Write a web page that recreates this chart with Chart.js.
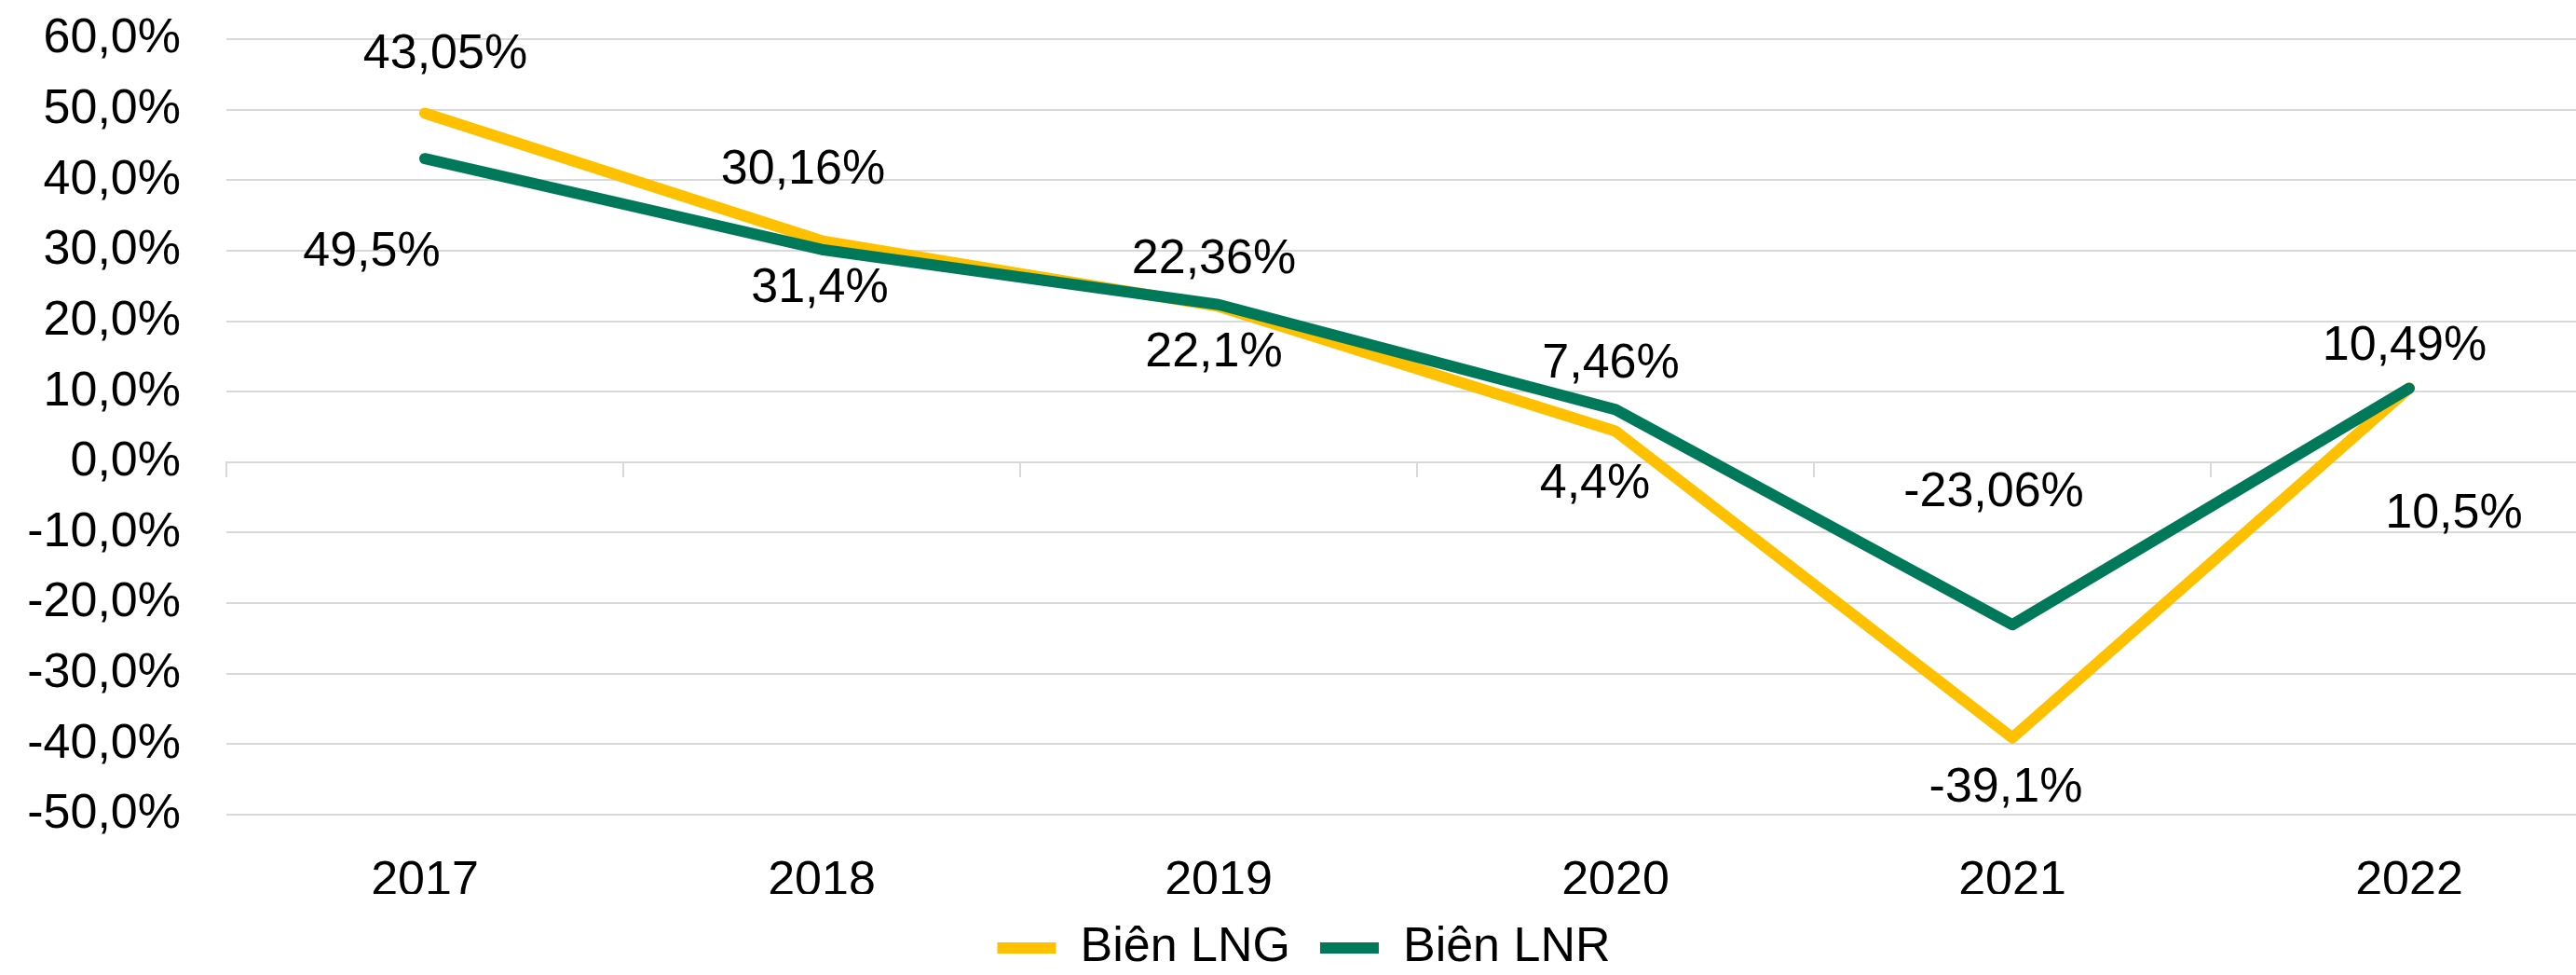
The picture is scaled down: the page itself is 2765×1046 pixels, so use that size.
<!DOCTYPE html>
<html>
<head>
<meta charset="utf-8">
<script src="https://cdn.jsdelivr.net/npm/chart.js@4.4.1/dist/chart.umd.min.js"></script>
<style>
  html, body { margin: 0; padding: 0; background: #fff; overflow: hidden; }
  /* the original chart is a bit wider than the picture, so it runs off the right edge */
  #wrap { position: absolute; left: 0; top: 0; width: 2830px; height: 1053px; }
</style>
</head>
<body>
<div id="wrap"><canvas id="chart"></canvas></div>
<script>
// Line chart: gross margin (LNG) vs net margin (LNR), 2017-2022

const YEARS = ['2017', '2018', '2019', '2020', '2021', '2022'];
const LNG = [49.5, 31.4, 22.1, 4.4, -39.1, 10.5];
const LNR = [43.05, 30.16, 22.36, 7.46, -23.06, 10.49];
const Y_TICKS = [60, 50, 40, 30, 20, 10, 0, -10, -20, -30, -40, -50];

const YELLOW = '#FFC000';
const GREEN = '#00785A';
const GRID = '#D9D9D9';
const FONT = 'Liberation Sans, Arial, sans-serif';

// where each value label sits relative to its point (px), as in the original
const LABEL_SHIFT = {
  0: [[-57, 149], [-2, 51], [-5, 50], [-22, 57], [-7, 54], [48, 135]],
  1: [[22, -112], [-20, -85], [-5, -48], [-5, -49], [-20, -142], [-5, -45]],
};

const fmtPct = (v) => String(v).replace('.', ',') + '%';

const valueLabels = {
  id: 'valueLabels',
  afterDatasetsDraw(chart) {
    const ctx = chart.ctx;
    ctx.save();
    ctx.font = `52px ${FONT}`;
    ctx.fillStyle = '#000';
    ctx.textAlign = 'center';
    ctx.textBaseline = 'middle';
    chart.data.datasets.forEach((ds, di) => {
      const meta = chart.getDatasetMeta(di);
      meta.data.forEach((pt, i) => {
        const [dx, dy] = LABEL_SHIFT[di][i];
        ctx.fillText(fmtPct(ds.data[i]), pt.x + dx, pt.y + dy);
      });
    });
    ctx.restore();
  },
};

new Chart(document.getElementById('chart'), {
  type: 'line',
  data: {
    labels: YEARS,
    datasets: [
      {
        label: 'Biên LNG', data: LNG, borderColor: YELLOW, backgroundColor: YELLOW,
        borderWidth: 12, borderCapStyle: 'round', borderJoinStyle: 'round',
        pointRadius: 0, tension: 0, order: 1,
      },
      {
        label: 'Biên LNR', data: LNR, borderColor: GREEN, backgroundColor: GREEN,
        borderWidth: 12, borderCapStyle: 'round', borderJoinStyle: 'round',
        pointRadius: 0, tension: 0, order: 0,
      },
    ],
  },
  options: {
    responsive: true, maintainAspectRatio: false, animation: false,
    devicePixelRatio: 1,
    layout: { padding: { top: 42, right: 31, left: 0, bottom: 0 } },
    scales: {
      x: {
        offset: true,
        grid: { display: false },
        border: { display: false },
        ticks: { color: '#000', font: { family: FONT, size: 52 }, padding: 32, maxRotation: 0 },
        afterFit: (s) => { s.height = 85; },
      },
      // zero line with the little category tick marks hanging under it
      x0: {
        type: 'category',
        position: { y: 0 },
        offset: true,
        grid: { drawOnChartArea: false, offset: true, tickLength: 15, color: GRID, lineWidth: 2 },
        border: { display: true, color: GRID, width: 2 },
        ticks: { callback: () => '' },
        afterFit: (s) => { s.height = 0; },
      },
      y: {
        min: -50, max: 60,
        afterBuildTicks: (s) => { s.ticks = Y_TICKS.map((v) => ({ value: v })); },
        grid: { color: GRID, lineWidth: 2, drawTicks: false },
        border: { display: false },
        ticks: {
          color: '#000', font: { family: FONT, size: 52 }, padding: 49,
          callback: (v) => (v === 0 ? 0 : v).toFixed(1).replace('.', ',') + '%',
        },
        afterFit: (s) => { s.width = 243; s.paddingTop = 0; s.paddingBottom = 0; },
      },
    },
    plugins: {
      legend: {
        position: 'bottom',
        labels: {
          color: '#000', font: { family: FONT, size: 52 },
          usePointStyle: true, pointStyle: 'line', pointStyleWidth: 63,
          padding: 32,
          sort: (a, b) => a.datasetIndex - b.datasetIndex,
        },
      },
      tooltip: { enabled: false },
    },
  },
  plugins: [valueLabels],
});
</script>
</body>
</html>
